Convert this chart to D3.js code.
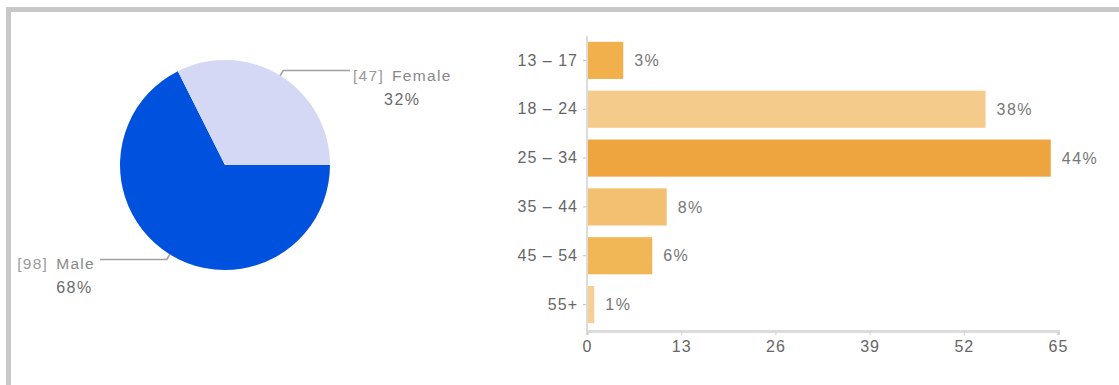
<!DOCTYPE html>
<html>
<head>
<meta charset="utf-8">
<script src="https://cdn.jsdelivr.net/npm/d3@7/dist/d3.min.js"></script>
<style>
  html, body { margin: 0; padding: 0; background: #fff; }
  svg { display: block; font-family: "Liberation Sans", Arial, sans-serif; }
</style>
</head>
<body>
<svg id="chart" width="1119" height="385"></svg>
<script>
// Gender split (respondent counts)
const genderLabels = ["Male", "Female"];
const genderCounts = [98, 47];
const genderColors = ["#0052de", "#d4d8f5"];

// Age groups (respondent counts)
const ageGroups = ["13 – 17", "18 – 24", "25 – 34", "35 – 44", "45 – 54", "55+"];
const ageCounts = [5, 55, 64, 11, 9, 1];
const ageColors = ["#f1b04c", "#f5cb8b", "#eea53f", "#f3c072", "#f1b656", "#f5cf93"];

// Value axis ticks
const xTicks = [0, 13, 26, 39, 52, 65];

const svg = d3.select("#chart");
const FONT = "Liberation Sans, Arial, sans-serif";

// Frame around the panel
svg.append("rect").attr("x", 6).attr("y", 7).attr("width", 1123).attr("height", 5).attr("fill", "#c8c8c8");
svg.append("rect").attr("x", 6).attr("y", 7).attr("width", 5).attr("height", 385).attr("fill", "#c8c8c8");

// ---------- Pie ----------
const cx = 225, cy = 165, r = 105;
const total = d3.sum(genderCounts);
const pie = d3.pie().sort(null).startAngle(Math.PI / 2).endAngle(Math.PI / 2 + 2 * Math.PI);
const arcs = pie(genderCounts);
const arc = d3.arc().innerRadius(0).outerRadius(r);

const pg = svg.append("g").attr("transform", `translate(${cx},${cy})`);
pg.selectAll("path.slice").data(arcs).join("path")
  .attr("class", "slice")
  .attr("d", arc)
  .attr("fill", (d, i) => genderColors[i]);

// Leader lines and labels
arcs.forEach((d, i) => {
  const mid = (d.startAngle + d.endAngle) / 2;
  const sx = Math.sin(mid), sy = -Math.cos(mid);
  const p0 = [sx * r, sy * r];
  const p1 = [sx * (r + 6), sy * (r + 6)];
  const right = sx > 0;
  const endX = right ? 125 : -125;
  pg.append("path")
    .attr("d", `M${p0[0]},${p0[1]}L${p1[0]},${p1[1]}L${endX},${p1[1]}`)
    .attr("fill", "none").attr("stroke", "#a0a0a0").attr("stroke-width", 1.6);

  const t = pg.append("text")
    .attr("x", right ? endX + 3 : endX - 5)
    .attr("y", p1[1] + 10)
    .attr("text-anchor", right ? "start" : "end")
    .attr("font-size", 15.5)
    .attr("letter-spacing", 1.3);
  t.append("tspan").attr("fill", "#9a9a9a").text(`[${genderCounts[i]}]`);
  const nameSpan = t.append("tspan").attr("fill", "#888").attr("dx", 8).text(genderLabels[i]);

  const fullW = t.node().getComputedTextLength();
  const nameW = nameSpan.node().getComputedTextLength();
  const nameStart = right ? endX + 3 + (fullW - nameW) : endX - 5 - nameW;
  pg.append("text")
    .attr("x", nameStart)
    .attr("y", p1[1] + 34)
    .attr("font-size", 16)
    .attr("letter-spacing", 1.5)
    .attr("fill", "#6c6c6c")
    .text(Math.round(genderCounts[i] / total * 100) + "%");
});

// ---------- Bars ----------
const x = d3.scaleLinear().domain([0, 65]).range([587, 1058]);
const y = d3.scaleBand().domain(ageGroups).range([36, 329]).paddingInner(0.24).paddingOuter(0.12);
const ageTotal = d3.sum(ageCounts);

const bg = svg.append("g");
bg.selectAll("rect.bar").data(ageGroups).join("rect")
  .attr("class", "bar")
  .attr("x", x(0))
  .attr("y", d => y(d))
  .attr("width", (d, i) => x(ageCounts[i]) - x(0))
  .attr("height", y.bandwidth())
  .attr("fill", (d, i) => ageColors[i]);

bg.selectAll("text.val").data(ageGroups).join("text")
  .attr("class", "val")
  .attr("x", (d, i) => x(ageCounts[i]) + 11)
  .attr("y", d => y(d) + y.bandwidth() / 2)
  .attr("dy", "0.35em")
  .attr("font-size", 16)
  .attr("letter-spacing", 1.5)
  .attr("fill", "#777")
  .text((d, i) => Math.round(ageCounts[i] / ageTotal * 100) + "%");

// Category axis
const yAxis = svg.append("g").attr("transform", `translate(${x(0)},0)`)
  .call(d3.axisLeft(y).tickSize(4).tickPadding(5));
yAxis.select(".domain").remove();
yAxis.selectAll(".tick line").attr("stroke", "#c0c0c0");
yAxis.selectAll(".tick text").attr("font-size", 16).attr("fill", "#666")
  .attr("letter-spacing", 1).attr("font-family", FONT);
svg.append("line").attr("x1", x(0)).attr("x2", x(0)).attr("y1", 36).attr("y2", 331)
  .attr("stroke", "#dcdcdc").attr("stroke-width", 2);

// Value axis
const xAxis = svg.append("g").attr("transform", "translate(0,331)")
  .call(d3.axisBottom(x).tickValues(xTicks).tickSize(4).tickPadding(6));
xAxis.select(".domain").attr("stroke", "#dcdcdc").attr("stroke-width", 3);
xAxis.selectAll(".tick line").attr("stroke", "#d0d0d0");
xAxis.selectAll(".tick text").attr("font-size", 16).attr("fill", "#666")
  .attr("letter-spacing", 1).attr("font-family", FONT);
</script>
</body>
</html>
